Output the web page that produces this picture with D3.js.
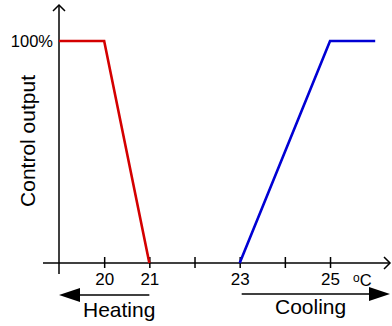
<!DOCTYPE html>
<html>
<head>
<meta charset="utf-8">
<script src="https://cdn.jsdelivr.net/npm/d3@7"></script>
<style>
  html, body { margin: 0; padding: 0; background: #fff; }
  svg { display: block; font-family: "Liberation Sans", Arial, sans-serif; }
</style>
</head>
<body>
<svg id="chart" width="392" height="326"></svg>
<script>
// Heating and cooling control output vs. temperature (°C)
const heatTemps = [19, 20, 21];
const heatOutput = [100, 100, 0];
const coolTemps = [23, 25, 26];
const coolOutput = [0, 100, 100];
const tickTemps = [20, 21, 22, 23, 24, 25];
const tickLabels = ["20", "21", "", "23", "", "25"];
const yTickValues = [100];
const yTickLabels = ["100%"];

const svg = d3.select("#chart");

const x = d3.scaleLinear().domain([19, 26]).range([59, 375.2]);
const y = d3.scaleLinear().domain([0, 100]).range([263, 41]);

const axisColor = "#000";

// Axis lines with open arrowheads
const gAxes = svg.append("g").attr("stroke", axisColor).attr("fill", "none");
gAxes.append("line")
  .attr("x1", x(19)).attr("x2", x(19))
  .attr("y1", 274).attr("y2", 5)
  .attr("stroke-width", 1.5);
gAxes.append("path")
  .attr("d", `M${x(19) - 6},${11} L${x(19)},${5} L${x(19) + 6},${11}`)
  .attr("stroke-width", 1.5);
gAxes.append("line")
  .attr("x1", 43).attr("x2", 390)
  .attr("y1", y(0)).attr("y2", y(0))
  .attr("stroke-width", 1.5);
gAxes.append("path")
  .attr("d", `M${384},${y(0) - 6} L${390},${y(0)} L${384},${y(0) + 6}`)
  .attr("stroke-width", 1.5);

// Temperature ticks crossing the axis
const xAxis = d3.axisBottom(x)
  .tickValues(tickTemps)
  .tickFormat((d, i) => tickLabels[i])
  .tickSize(0);
const gx = svg.append("g")
  .attr("transform", `translate(0,${y(0)})`)
  .call(xAxis);
gx.select(".domain").remove();
gx.selectAll(".tick line")
  .attr("y1", -6).attr("y2", 5)
  .attr("stroke", axisColor).attr("stroke-width", 1.5);
gx.selectAll(".tick text")
  .attr("y", 22).attr("dy", 0)
  .attr("font-size", 17).attr("font-family", "Liberation Sans, Arial, sans-serif")
  .attr("fill", "#000");

// Unit label
const unit = svg.append("text")
  .attr("x", 353).attr("y", 286)
  .attr("fill", "#000");
unit.append("tspan").attr("font-size", 12).attr("dy", -4).text("o");
unit.append("tspan").attr("font-size", 16.5).attr("dy", 4).text("C");

// 100% label
const gy = svg.append("g")
  .attr("transform", `translate(${x(19)},0)`)
  .call(d3.axisLeft(y).tickValues(yTickValues)
    .tickFormat((d, i) => yTickLabels[i]).tickSize(0).tickPadding(6));
gy.select(".domain").remove();
gy.selectAll(".tick text")
  .attr("font-size", 16.5).attr("font-family", "Liberation Sans, Arial, sans-serif")
  .attr("fill", "#000");

// Vertical axis title
svg.append("text")
  .attr("transform", `translate(35,${141}) rotate(-90)`)
  .attr("text-anchor", "middle")
  .attr("font-size", 21).attr("fill", "#000")
  .text("Control output");

// Output curves
const line = d3.line().x(d => x(d[0])).y(d => y(d[1]));
svg.append("path")
  .datum(heatTemps.map((t, i) => [t, heatOutput[i]]))
  .attr("d", line)
  .attr("fill", "none").attr("stroke", "#d40000")
  .attr("stroke-width", 2.6).attr("stroke-linejoin", "miter");
svg.append("path")
  .datum(coolTemps.map((t, i) => [t, coolOutput[i]]))
  .attr("d", line)
  .attr("fill", "none").attr("stroke", "#0000d4")
  .attr("stroke-width", 2.6).attr("stroke-linejoin", "miter");

// Direction arrows: heating to the left, cooling to the right
const arrowY1 = 295, arrowY2 = 294;
svg.append("line")
  .attr("x1", x(21)).attr("x2", x(19) + 18)
  .attr("y1", arrowY1).attr("y2", arrowY1)
  .attr("stroke", "#000").attr("stroke-width", 1.5);
svg.append("path")
  .attr("d", `M${x(19)},${arrowY1} L${x(19) + 21},${arrowY1 - 7} L${x(19) + 21},${arrowY1 + 7} Z`)
  .attr("fill", "#000");
svg.append("text")
  .attr("x", 83).attr("y", 317)
  .attr("font-size", 21).attr("fill", "#000")
  .text("Heating");

svg.append("line")
  .attr("x1", x(23) + 2).attr("x2", 372)
  .attr("y1", arrowY2).attr("y2", arrowY2)
  .attr("stroke", "#000").attr("stroke-width", 1.5);
svg.append("path")
  .attr("d", `M${390},${arrowY2} L${369},${arrowY2 - 7} L${369},${arrowY2 + 7} Z`)
  .attr("fill", "#000");
svg.append("text")
  .attr("x", 275).attr("y", 314)
  .attr("font-size", 21).attr("fill", "#000")
  .text("Cooling");
</script>
</body>
</html>
